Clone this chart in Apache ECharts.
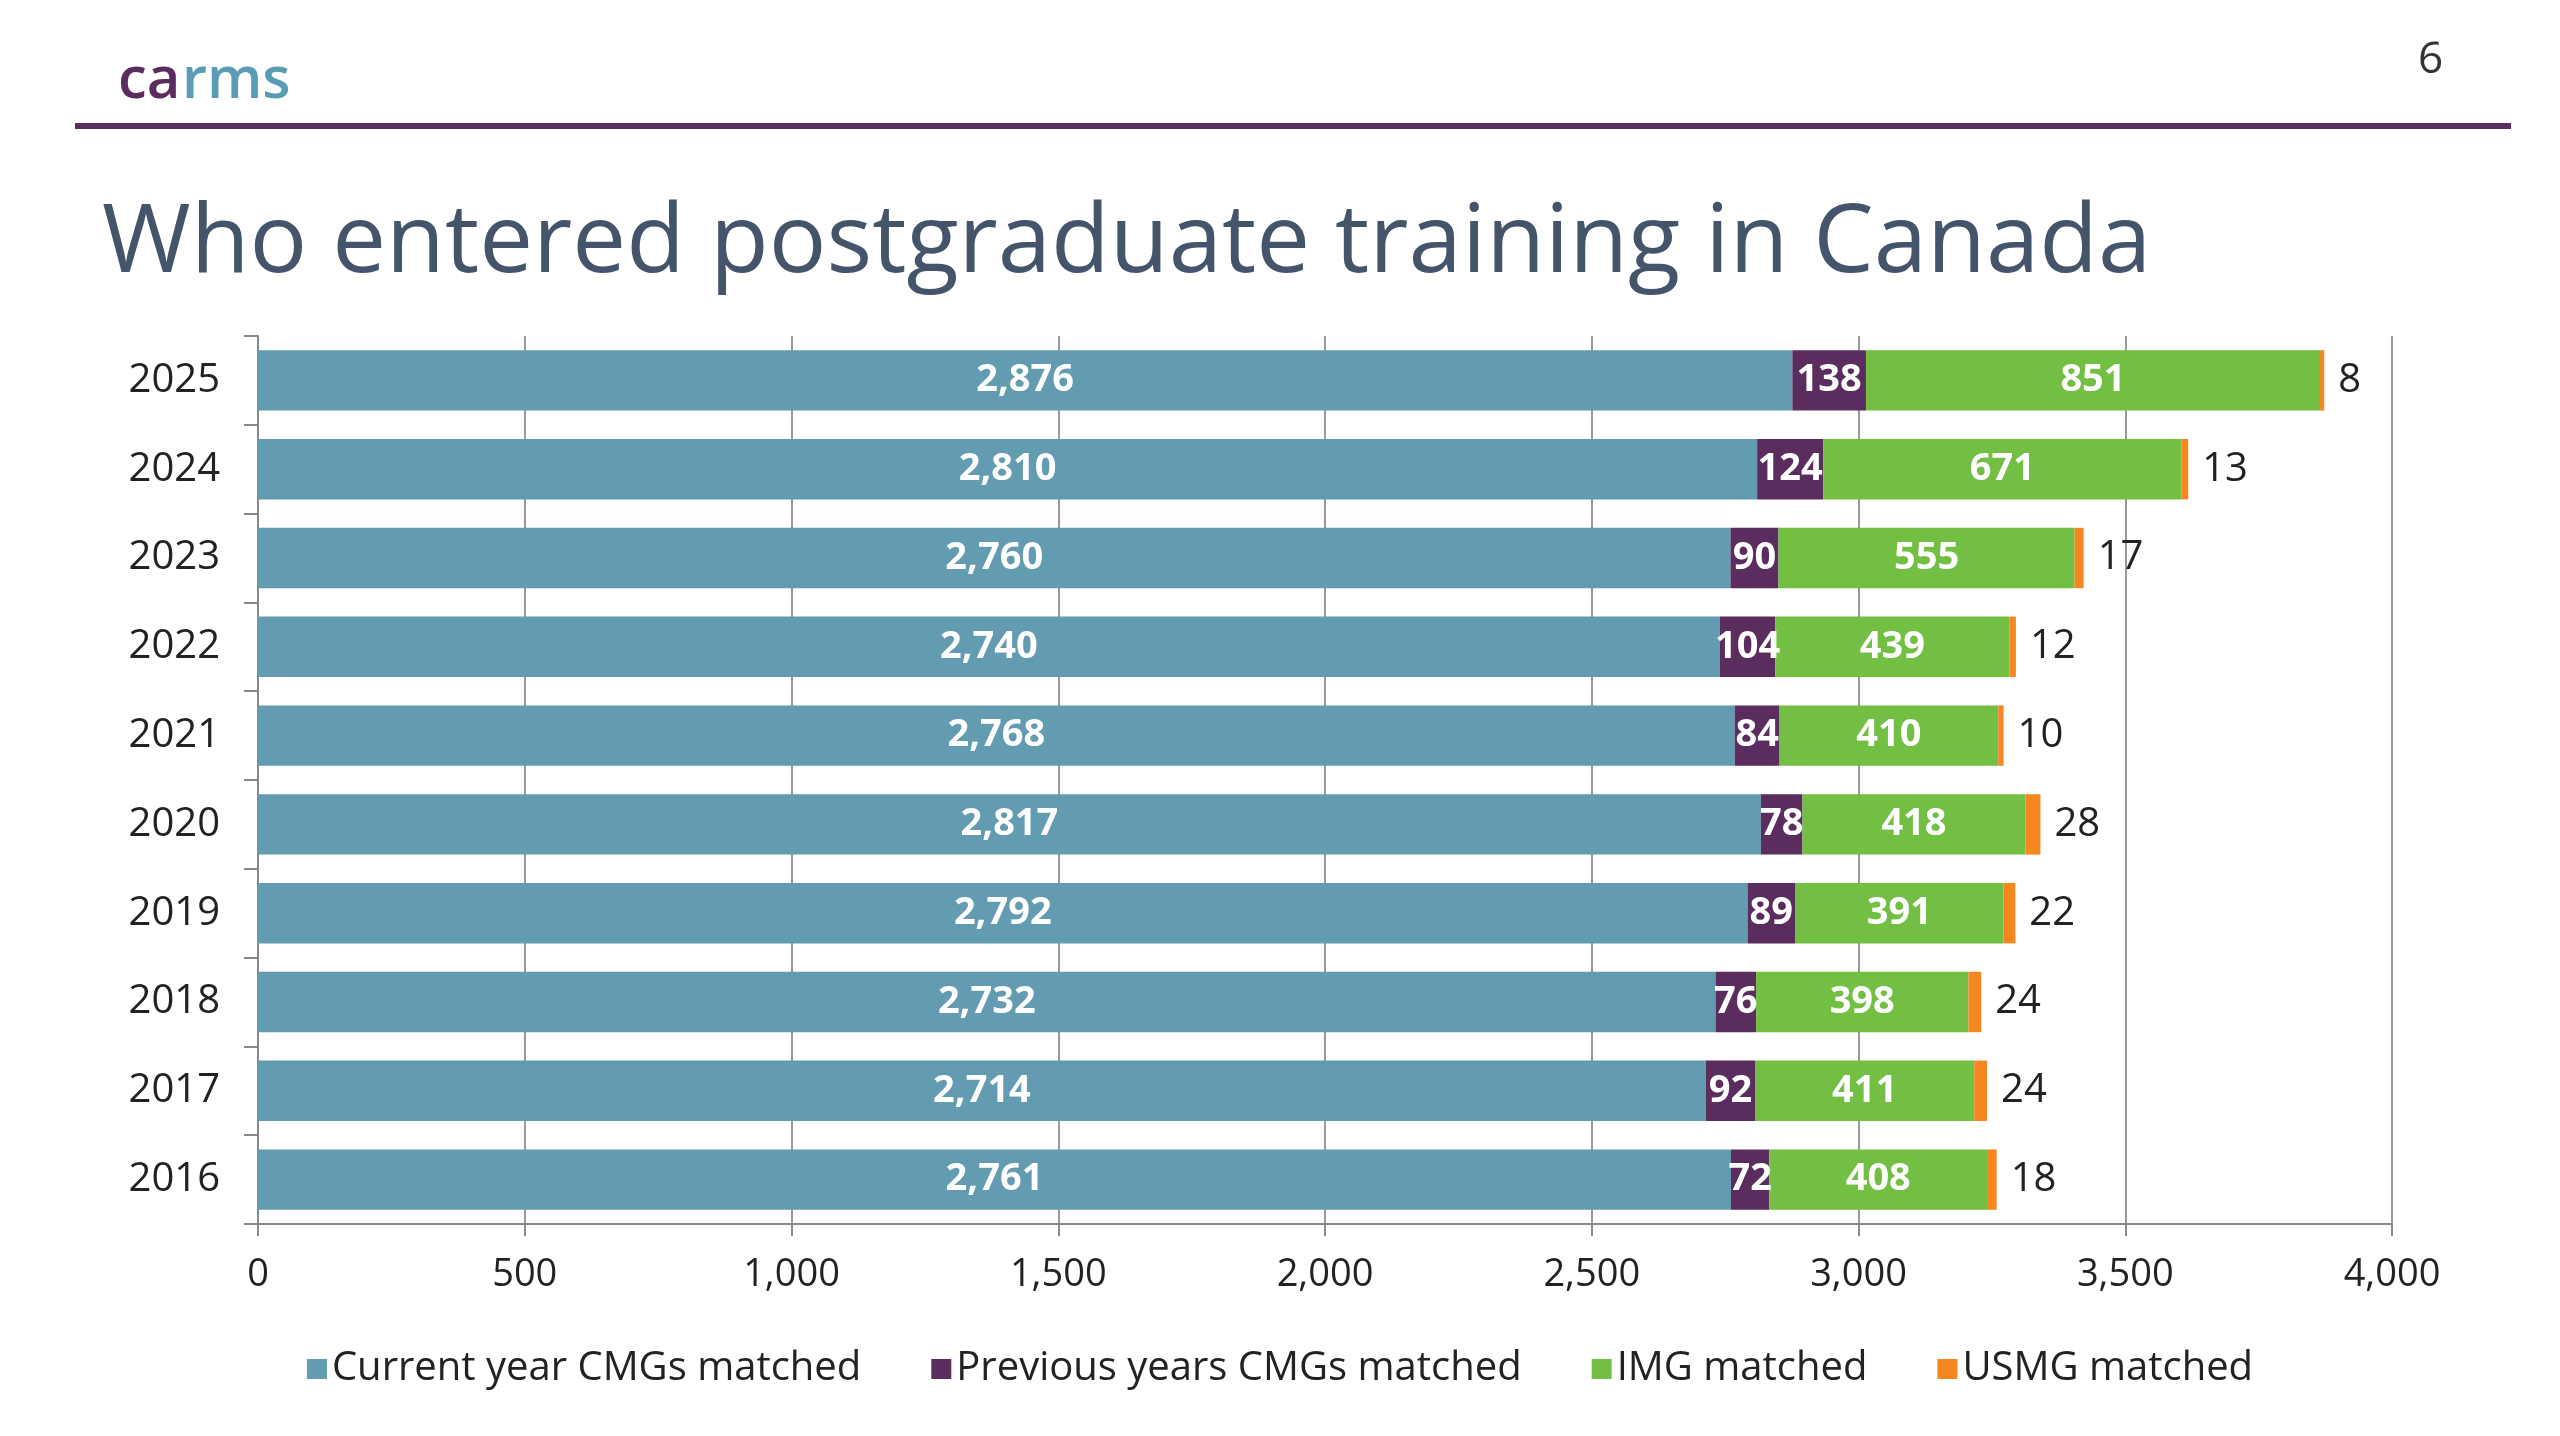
<!DOCTYPE html>
<html><head><meta charset="utf-8">
<script src="https://cdn.jsdelivr.net/npm/echarts@6/dist/echarts.min.js"></script>
<style>html,body{margin:0;background:#fff}#c{width:2560px;height:1436px}</style>
</head><body><div id="c"></div>
<script>
const years = ['2016','2017','2018','2019','2020','2021','2022','2023','2024','2025'];
const currentCMG = [2761,2714,2732,2792,2817,2768,2740,2760,2810,2876];
const previousCMG = [72,92,76,89,78,84,104,90,124,138];
const img = [408,411,398,391,418,410,439,555,671,851];
const usmg = [18,24,24,22,28,10,12,17,13,8];
const xTicks = [0,500,1000,1500,2000,2500,3000,3500,4000];

const fnt = '"Open Sans", "Noto Sans", sans-serif';
const inLabel = {show:true, position:'inside', color:'#fff', fontWeight:'bold', fontSize:38, fontFamily:fnt,
  formatter:p=>p.value.toLocaleString('en-US')};
const chart = echarts.init(document.getElementById('c'));
chart.setOption({
  animation:false,
  graphic:[
    {type:'text', left:118, top:52, style:{text:'ca', fill:'#5a2d5e', font:'600 58px '+fnt}},
    {type:'text', left:182, top:52, style:{text:'rms', fill:'#5b9cb5', font:'600 58px '+fnt}},
    {type:'text', left:2418, top:38, style:{text:'6', fill:'#333', font:'44px '+fnt}},
    {type:'rect', shape:{x:75, y:123, width:2436, height:6}, style:{fill:'#5a2d5e'}},
    {type:'text', left:102, top:197, style:{text:'Who entered postgraduate training in Canada', fill:'#44546a', font:'500 96px '+fnt}}
  ],
  grid:{left:258, right:168, top:336, bottom:212, containLabel:false},
  legend:{bottom:42, left:'center', itemWidth:20, itemHeight:20, itemGap:70, icon:'rect',
    textStyle:{fontSize:40, fontFamily:fnt, color:'#222'},
    data:['Current year CMGs matched','Previous years CMGs matched','IMG matched','USMG matched']},
  xAxis:{type:'value', min:0, max:4000, interval:500,
    axisLine:{show:true, lineStyle:{color:'#888', width:2}},
    axisTick:{show:true, length:12, lineStyle:{color:'#888', width:2}},
    splitLine:{show:true, lineStyle:{color:'#999', width:2}},
    axisLabel:{fontSize:38, fontFamily:fnt, color:'#222', margin:32,
      formatter:v=>v.toLocaleString('en-US')}},
  yAxis:{type:'category', data:years,
    axisLine:{show:true, lineStyle:{color:'#888', width:2}},
    axisTick:{show:true, length:14, lineStyle:{color:'#888', width:2}},
    axisLabel:{fontSize:40, fontFamily:fnt, color:'#222', margin:38}},
  series:[
    {name:'Current year CMGs matched', type:'bar', stack:'a', barWidth:'68%', data:currentCMG,
     itemStyle:{color:'#639bb0'}, label:inLabel},
    {name:'Previous years CMGs matched', type:'bar', stack:'a', data:previousCMG,
     itemStyle:{color:'#5a2d5e'}, label:inLabel},
    {name:'IMG matched', type:'bar', stack:'a', data:img,
     itemStyle:{color:'#72bf44'}, label:inLabel},
    {name:'USMG matched', type:'bar', stack:'a', data:usmg,
     itemStyle:{color:'#f6861f'}, label:{show:true, position:'right', color:'#222', fontSize:40, fontFamily:fnt, distance:14}}
  ]
});
</script></body></html>
